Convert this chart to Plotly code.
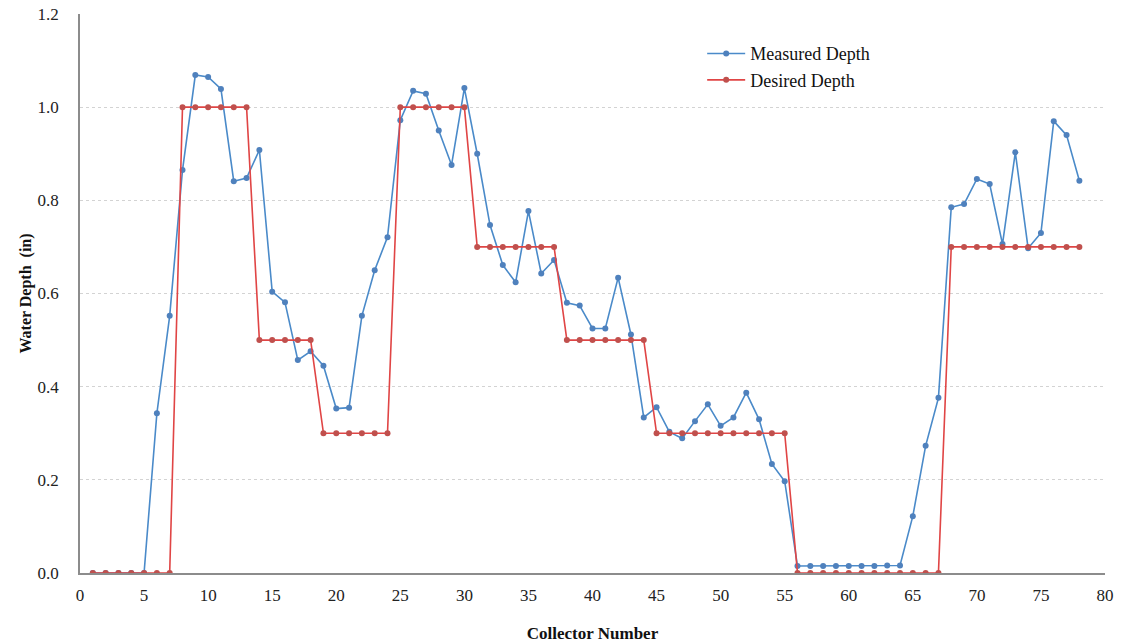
import plotly.graph_objects as go

collector = list(range(1, 79))

measured_depth = [
    0, 0, 0, 0, 0, 0.343, 0.552, 0.865, 1.069, 1.065,
    1.039, 0.841, 0.848, 0.908, 0.604, 0.581, 0.457, 0.476, 0.445, 0.353,
    0.355, 0.552, 0.650, 0.721, 0.972, 1.035, 1.029, 0.950, 0.876, 1.041,
    0.900, 0.747, 0.661, 0.624, 0.777, 0.643, 0.672, 0.580, 0.574, 0.525,
    0.525, 0.634, 0.512, 0.334, 0.356, 0.303, 0.289, 0.326, 0.362, 0.316,
    0.334, 0.387, 0.330, 0.234, 0.197, 0.015, 0.015, 0.015, 0.015, 0.015,
    0.015, 0.015, 0.016, 0.016, 0.122, 0.273, 0.376, 0.785, 0.792, 0.846,
    0.835, 0.706, 0.903, 0.697, 0.730, 0.970, 0.940, 0.842,
]

desired_depth = (
    [0.0] * 7 + [1.0] * 6 + [0.5] * 5 + [0.3] * 6 + [1.0] * 6
    + [0.7] * 7 + [0.5] * 7 + [0.3] * 11 + [0.0] * 12 + [0.7] * 11
)

x_ticks = list(range(0, 81, 5))
y_ticks = [0.0, 0.2, 0.4, 0.6, 0.8, 1.0, 1.2]

serif = "Liberation Serif, Times New Roman, serif"

fig = go.Figure()
fig.add_trace(go.Scatter(
    x=collector, y=measured_depth, mode="lines+markers", name="Measured Depth",
    line=dict(color="#4A8AC9", width=1.6),
    marker=dict(color="#4F81BD", size=6),
))
fig.add_trace(go.Scatter(
    x=collector, y=desired_depth, mode="lines+markers", name="Desired Depth",
    line=dict(color="#E04545", width=1.6),
    marker=dict(color="#C0504D", size=6),
))

fig.update_layout(
    width=1125, height=643,
    margin=dict(l=80, r=20, t=14, b=70, autoexpand=False),
    paper_bgcolor="white", plot_bgcolor="white",
    font=dict(family=serif, size=16, color="#222222"),
    showlegend=True,
    legend=dict(
        x=0.607, y=0.962, xanchor="left", yanchor="top",
        bgcolor="rgba(0,0,0,0)", font=dict(family=serif, size=18, color="#111111"),
        itemwidth=38, tracegroupgap=0,
    ),
    xaxis=dict(
        range=[0, 80], tickvals=x_ticks, showgrid=False, zeroline=False,
        showline=True, linecolor="#8C8C8C", linewidth=1.5,
        ticks="", ticklabelstandoff=6,
        tickfont=dict(family=serif, size=17, color="#222222"),
        title=dict(text="<b>Collector Number</b>", standoff=24,
                   font=dict(family=serif, size=17, color="#111111")),
        automargin=False,
    ),
    yaxis=dict(
        range=[0, 1.2], tickvals=y_ticks, tickformat=".1f",
        showgrid=True, gridcolor="#D3D3D3", griddash="dot", gridwidth=1,
        zeroline=False, showline=True, linecolor="#8C8C8C", linewidth=1.5,
        ticks="", ticklabelstandoff=16,
        tickfont=dict(family=serif, size=17, color="#222222"),
        title=dict(text="<b>Water Depth  (in)</b>", standoff=2,
                   font=dict(family=serif, size=16, color="#111111")),
        automargin=False,
    ),
)

fig.write_html("out.html")
